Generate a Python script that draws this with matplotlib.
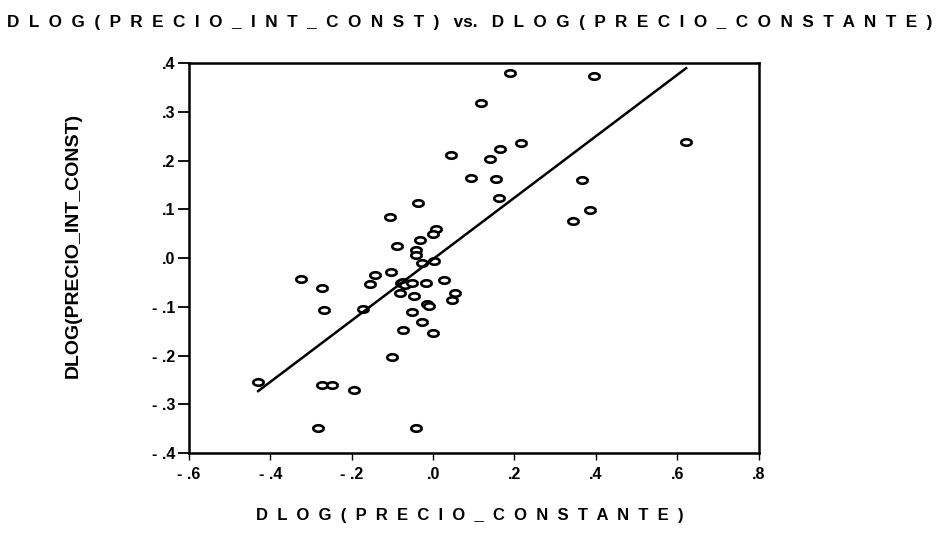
import numpy as np
import matplotlib.pyplot as plt
from matplotlib.path import Path
from matplotlib.ticker import FuncFormatter

plt.rcParams['font.family'] = ['Liberation Sans', 'DejaVu Sans']
plt.rcParams['font.weight'] = 'bold'

# DLOG(PRECIO_CONSTANTE) on x, DLOG(PRECIO_INT_CONST) on y
precio_constante = [
    0.044, -0.106, -0.036, -0.089, -0.032, 0.007, -0.001, -0.042, -0.042,
    0.189, 0.396, 0.117, 0.216, 0.165, 0.140, 0.093, 0.155, 0.161,
    0.622, 0.365, 0.385, 0.344,
    -0.028, 0.002, -0.325, -0.274, -0.268, -0.142, -0.155, -0.104, -0.173,
    -0.078, -0.073, -0.069, -0.052, -0.081, -0.048, -0.017, 0.027, 0.054,
    0.047, -0.014, -0.010, -0.052, -0.028, -0.075, -0.001, -0.100,
    -0.430, -0.274, -0.249, -0.194, -0.284, -0.042,
]
precio_int_const = [
    0.212, 0.085, 0.114, 0.024, 0.038, 0.059, 0.049, 0.017, 0.007,
    0.379, 0.374, 0.319, 0.237, 0.224, 0.204, 0.164, 0.163, 0.123,
    0.239, 0.160, 0.098, 0.076,
    -0.009, -0.005, -0.043, -0.062, -0.107, -0.034, -0.053, -0.028, -0.105,
    -0.052, -0.049, -0.055, -0.051, -0.071, -0.078, -0.051, -0.045, -0.071,
    -0.086, -0.094, -0.098, -0.110, -0.132, -0.148, -0.154, -0.202,
    -0.255, -0.261, -0.261, -0.270, -0.349, -0.349,
]

# fitted regression line
fit_intercept = -0.002
fit_slope = 0.63

x = np.array(precio_constante)
y = np.array(precio_int_const)

# wide elliptical "o" marker
t = np.linspace(0, 2 * np.pi, 41)
ellipse = Path(np.column_stack([np.cos(t), 0.62 * np.sin(t)]))

fig = plt.figure(figsize=(9.4, 5.4), dpi=100)
ax = fig.add_axes([0.201, 0.161, 0.606, 0.722])

ax.plot(x, y, linestyle='none', marker=ellipse, markersize=7.5,
        markerfacecolor='white', markeredgecolor='black', markeredgewidth=1.9)

xs = np.array([x.min(), x.max()])
ax.plot(xs, fit_intercept + fit_slope * xs, color='black', linewidth=1.8)

ax.set_xlim(-0.6, 0.8)
ax.set_ylim(-0.4, 0.4)
ax.set_xticks(np.arange(-0.6, 0.81, 0.2))
ax.set_yticks(np.arange(-0.4, 0.41, 0.1))


def short_fmt(v, pos):
    if abs(v) < 1e-9:
        return ".0"
    s = f"{abs(v):.1f}".replace("0.", ".")
    return "- " + s if v < 0 else s


ax.xaxis.set_major_formatter(FuncFormatter(short_fmt))
ax.yaxis.set_major_formatter(FuncFormatter(short_fmt))
ax.tick_params(labelsize=11.5)
ax.tick_params(axis='y', direction='out', length=8, width=1.3, pad=2)
ax.tick_params(axis='x', direction='out', length=5, width=1.0, pad=5)
for sp in ax.spines.values():
    sp.set_linewidth(1.8)


def spaced(s):
    return "  ".join(s)


fig.text(0.5, 0.958, spaced("DLOG(PRECIO_INT_CONST)") + "   vs.   " + spaced("DLOG(PRECIO_CONSTANTE)"),
         ha='center', va='center', fontsize=12.3, fontweight='bold')
fig.text(0.5, 0.045, spaced("DLOG(PRECIO_CONSTANTE)"),
         ha='center', va='center', fontsize=12, fontweight='bold')
fig.text(0.078, 0.546, "DLOG(PRECIO_INT_CONST)", rotation=90,
         ha='center', va='center', fontsize=14, fontweight='bold')

fig.savefig('out.png', dpi=100)
